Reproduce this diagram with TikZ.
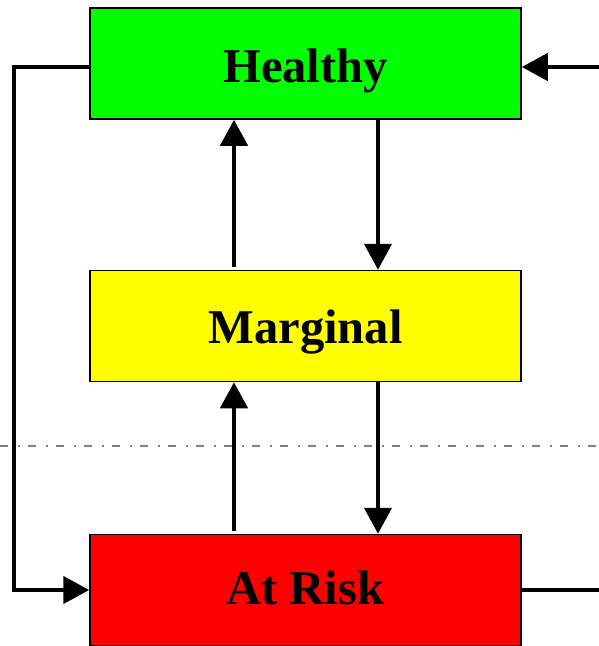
\documentclass[tikz,border=0pt]{standalone}
\usepackage{fontspec}
\setmainfont{Liberation Serif}
\usetikzlibrary{arrows.meta}
\definecolor{hgreen}{RGB}{0,255,0}
\definecolor{myellow}{RGB}{255,255,0}
\definecolor{rred}{RGB}{255,0,0}
\tikzset{
  statebox/.style={draw=black, line width=1.5pt, minimum width=431pt, minimum height=111pt, inner sep=0pt, font=\bfseries\fontsize{48.5}{50}\selectfont, text=black, text height=31pt, text depth=0pt},
  conn/.style={line width=4.5pt, -{Triangle[width=27pt,length=26pt]}},
  plainconn/.style={line width=4.5pt},
  sep/.style={gray, line width=1.5pt, dash pattern=on 8pt off 10pt on 2pt off 8pt}
}
\begin{document}
\begin{tikzpicture}[x=1pt,y=-1pt]
\useasboundingbox (0,0) rectangle (599,646);
\clip (0,0) rectangle (599,646);
\draw[sep] (0,446) -- (599,446);
\node[statebox, fill=hgreen] (h) at (305.5,63.5) {\raisebox{-3pt}{Healthy}};
\node[statebox, fill=myellow] (m) at (305.5,326) {\raisebox{-1.5pt}{Marginal}};
\node[statebox, fill=rred] (r) at (305.5,590) {\raisebox{1pt}{At Risk}};
% vertical arrows
\coordinate (mu) at (234,267);
\coordinate (ru) at (234,531);
\draw[conn] (mu) -- (h.south -| mu);
\draw[conn] (h.south -| 378,0) -- (m.north -| 378,0);
\draw[conn] (ru) -- (m.south -| ru);
\draw[conn] (m.south -| 378,0) -- (r.north -| 378,0);
% left loop
\coordinate (l1) at (14,67);
\coordinate (l2) at (14,590);
\draw[conn] (h.west |- l1) -- (l1) -- (l2) -- (r.west |- l2);
% right side
\coordinate (rt) at (600,67);
\coordinate (rb) at (600,590);
\draw[conn] (rt) -- (h.east |- rt);
\draw[plainconn] (r.east |- rb) -- (rb);
\end{tikzpicture}
\end{document}
